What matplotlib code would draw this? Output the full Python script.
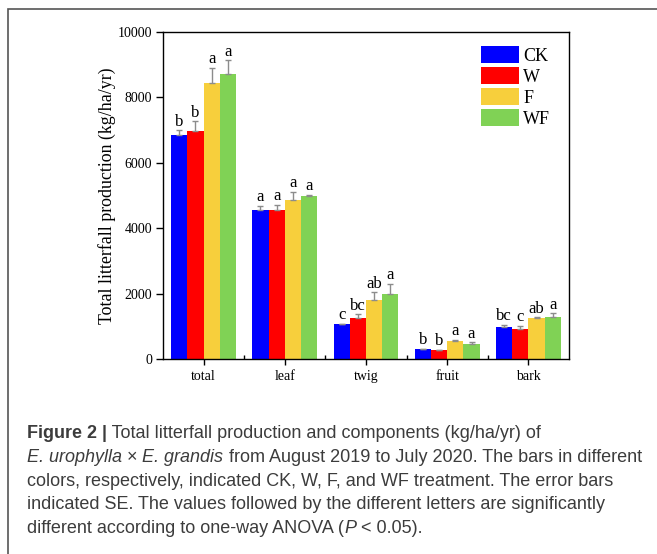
import numpy as np
import matplotlib
matplotlib.use("Agg")
import matplotlib.pyplot as plt
from matplotlib.patches import Rectangle, Patch

# data
categories = ["total", "leaf", "twig", "fruit", "bark"]
treatments = ["CK", "W", "F", "WF"]
colors = ["#0000ff", "#ff0000", "#f7cf3c", "#80d255"]

ck = [6860, 4560, 1060, 295, 980]
w = [6960, 4560, 1245, 265, 925]
f = [8450, 4870, 1800, 550, 1245]
wf = [8730, 5000, 1990, 460, 1285]
means = [ck, w, f, wf]

ck_se = [130, 120, 15, 10, 60]
w_se = [310, 150, 120, 10, 90]
f_se = [460, 250, 240, 30, 30]
wf_se = [400, 30, 300, 45, 115]
errors = [ck_se, w_se, f_se, wf_se]

ck_let = ["b", "a", "c", "b", "bc"]
w_let = ["b", "a", "bc", "b", "c"]
f_let = ["a", "a", "ab", "a", "ab"]
wf_let = ["a", "a", "a", "a", "a"]
letters = [ck_let, w_let, f_let, wf_let]

W, H = 657, 554
serif = "Liberation Serif"

fig = plt.figure(figsize=(W / 100, H / 100), dpi=100)
ax = fig.add_axes([163 / W, 1 - 359 / H, (569 - 163) / W, (359 - 32) / H])

x = np.arange(len(categories))
bw = 0.2
for k in range(len(treatments)):
    pos = x + (k - 1.5) * bw
    m = np.array(means[k])
    e = np.array(errors[k])
    ax.bar(pos, m, bw, color=colors[k], linewidth=0, zorder=2)
    ax.errorbar(pos, m, yerr=[np.zeros_like(e), e], fmt="none",
                ecolor="#8c8c8c", elinewidth=1, capsize=2.5, capthick=1, zorder=3)
    for p, v, s, t in zip(pos, m, e, letters[k]):
        ax.annotate(t, (p, v + s), xytext=(0, 0.5), textcoords="offset points",
                    ha="center", va="bottom", fontsize=12, family=serif)

ax.set_xlim(-0.5, 4.5)
ax.set_ylim(0, 10000)
ax.set_yticks(np.arange(0, 10001, 2000))
ax.set_xticks(x)
ax.set_xticklabels(categories)
ax.set_xticks(x[:-1] + 0.5, minor=True)
ax.tick_params(axis="x", which="major", direction="out", length=4, width=1, pad=11)
ax.tick_params(axis="x", which="minor", direction="in", length=3, width=1)
ax.tick_params(axis="y", direction="out", length=5, width=1, pad=3)
for lab in ax.get_xticklabels():
    lab.set_family(serif)
    lab.set_fontsize(10)
    lab.set_va("baseline")
for lab in ax.get_yticklabels():
    lab.set_family(serif)
    lab.set_fontsize(10)
for sp in ax.spines.values():
    sp.set_linewidth(1)
ax.set_ylabel("Total litterfall production (kg/ha/yr)", family=serif,
              fontsize=12.9, labelpad=1)

handles = [Patch(facecolor=c, edgecolor="none") for c in colors]
fig.legend(handles, treatments, loc="upper left",
           bbox_to_anchor=(481 / W, 1 - 46 / H), frameon=False,
           prop={"family": serif, "size": 13}, handlelength=2.1,
           handleheight=1.1, labelspacing=0.12, handletextpad=0.25,
           borderpad=0, borderaxespad=0)

# outer frame of the figure panel
fig.patches.append(Rectangle((8 / W, -0.2), 1.2, 1 - 9 / H + 0.2,
                             transform=fig.transFigure, fill=False,
                             edgecolor="#555555", linewidth=1.2))

# caption, drawn piece by piece
cap_font = "Liberation Sans"
cap_size = 13
cap_col = "#3c3c3c"
lines = [
    [("Figure 2 |", "bold", "normal"), (" Total litterfall production and components (kg/ha/yr) of", "normal", "normal")],
    [("E. urophylla", "normal", "italic"), (" \u00d7 ", "normal", "normal"), ("E. grandis", "normal", "italic"),
     (" from August 2019 to July 2020. The bars in different", "normal", "normal")],
    [("colors, respectively, indicated CK, W, F, and WF treatment. The error bars", "normal", "normal")],
    [("indicated SE. The values followed by the different letters are significantly", "normal", "normal")],
    [("different according to one-way ANOVA (", "normal", "normal"), ("P", "normal", "italic"),
     (" < 0.05).", "normal", "normal")],
]
renderer = fig.canvas.get_renderer()
y0 = 438
step = 23.8
for i, parts in enumerate(lines):
    xpx = 27
    for txt, wgt, sty in parts:
        t = fig.text(xpx / W, 1 - (y0 + i * step) / H, txt, fontsize=cap_size,
                     family=cap_font, color=cap_col, fontweight=wgt,
                     fontstyle=sty, va="baseline", ha="left")
        xpx += t.get_window_extent(renderer=renderer).width

fig.savefig("out.png", dpi=100)
